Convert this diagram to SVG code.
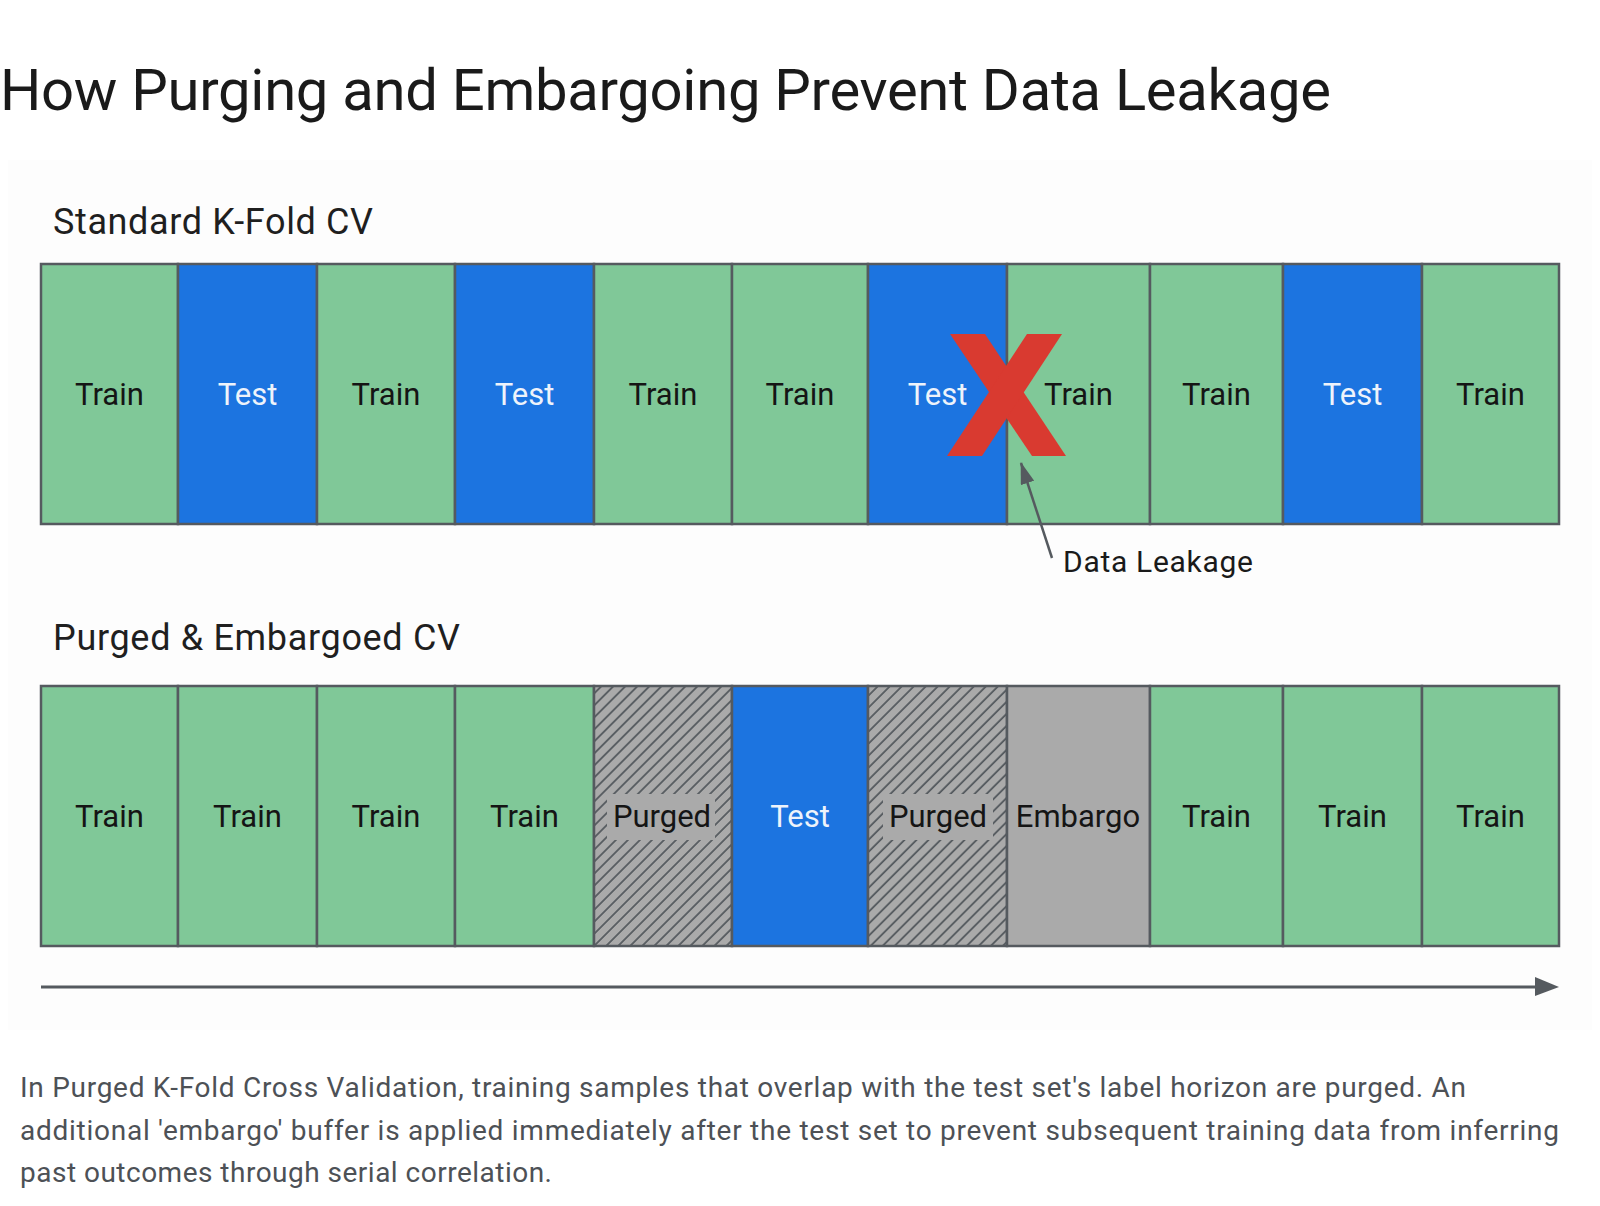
<svg xmlns="http://www.w3.org/2000/svg" width="1600" height="1206" viewBox="0 0 1600 1206">
<style>
.cell{stroke:#555a5f;stroke-width:2.5}
.train{fill:#80c898}
.test{fill:#1c74e0}
.gray{fill:#aaaaaa}
.lbl{font-family:Roboto,"Liberation Sans",sans-serif;font-size:31px;text-anchor:middle}
.dark{fill:#151515}
.light{fill:#eef3fb}
.head{font-family:Roboto,"Liberation Sans",sans-serif;font-size:36px;fill:#1f1f1f}
.cap{font-family:Roboto,"Liberation Sans",sans-serif;font-size:28px;fill:#4d5156}
.conn{stroke:#555a5f;fill:none}
</style>
<defs>
<pattern id="hatch" patternUnits="userSpaceOnUse" width="8.5" height="8.5" patternTransform="rotate(45)">
<rect width="8.5" height="8.5" fill="#aaaaaa"/>
<line x1="1" y1="0" x2="1" y2="8.5" stroke="#555a5f" stroke-width="1.8"/>
</pattern>
<marker id="ah" markerWidth="22" markerHeight="14" refX="21" refY="7" orient="auto" markerUnits="userSpaceOnUse" viewBox="0 0 22 14">
<path d="M0,0 L22,7 L0,14 z" fill="#555a5f"/>
</marker>
</defs>
<rect width="1600" height="1206" fill="#ffffff"/>
<rect x="8" y="160" width="1584" height="870" fill="#fdfdfd"/>
<text x="0" y="110" font-family="Roboto,'Liberation Sans',sans-serif" font-size="58" fill="#1a1a1a" textLength="1331">How Purging and Embargoing Prevent Data Leakage</text>
<text class="head" x="53" y="234" textLength="320">Standard K-Fold CV</text>
<text class="head" x="53" y="650" textLength="407">Purged &amp; Embargoed CV</text>

<g id="std-row">
<g id="s1"><rect class="cell train" x="41" y="264" width="137" height="260"/><text class="lbl dark" x="109.5" y="405">Train</text></g>
<g id="s2"><rect class="cell test" x="178" y="264" width="139" height="260"/><text class="lbl light" x="247.5" y="405">Test</text></g>
<g id="s3"><rect class="cell train" x="317" y="264" width="138" height="260"/><text class="lbl dark" x="386" y="405">Train</text></g>
<g id="s4"><rect class="cell test" x="455" y="264" width="139" height="260"/><text class="lbl light" x="524.5" y="405">Test</text></g>
<g id="s5"><rect class="cell train" x="594" y="264" width="138" height="260"/><text class="lbl dark" x="663" y="405">Train</text></g>
<g id="s6"><rect class="cell train" x="732" y="264" width="136" height="260"/><text class="lbl dark" x="800" y="405">Train</text></g>
<g id="s7"><rect class="cell test" x="868" y="264" width="139" height="260"/><text class="lbl light" x="937.5" y="405">Test</text></g>
<g id="s8"><rect class="cell train" x="1007" y="264" width="143" height="260"/><text class="lbl dark" x="1078.5" y="405">Train</text></g>
<g id="s9"><rect class="cell train" x="1150" y="264" width="133" height="260"/><text class="lbl dark" x="1216.5" y="405">Train</text></g>
<g id="s10"><rect class="cell test" x="1283" y="264" width="139" height="260"/><text class="lbl light" x="1352.5" y="405">Test</text></g>
<g id="s11"><rect class="cell train" x="1422" y="264" width="137" height="260"/><text class="lbl dark" x="1490.5" y="405">Train</text></g>
</g>

<g id="leak-x">
<polygon points="950,334 985,334 1066,456 1032,456" fill="#d93a30"/>
<polygon points="1027,334 1062,334 982,456 947,456" fill="#d93a30"/>
</g>

<g id="pe-row">
<g id="p1"><rect class="cell train" x="41" y="686" width="137" height="260"/><text class="lbl dark" x="109.5" y="827">Train</text></g>
<g id="p2"><rect class="cell train" x="178" y="686" width="139" height="260"/><text class="lbl dark" x="247.5" y="827">Train</text></g>
<g id="p3"><rect class="cell train" x="317" y="686" width="138" height="260"/><text class="lbl dark" x="386" y="827">Train</text></g>
<g id="p4"><rect class="cell train" x="455" y="686" width="139" height="260"/><text class="lbl dark" x="524.5" y="827">Train</text></g>
<g id="p5"><rect class="cell" x="594" y="686" width="138" height="260" fill="url(#hatch)"/><rect class="gray" x="607" y="794" width="108" height="46"/><text class="lbl dark" x="662" y="827">Purged</text></g>
<g id="p6"><rect class="cell test" x="732" y="686" width="136" height="260"/><text class="lbl light" x="800" y="827">Test</text></g>
<g id="p7"><rect class="cell" x="868" y="686" width="139" height="260" fill="url(#hatch)"/><rect class="gray" x="883" y="794" width="110" height="46"/><text class="lbl dark" x="938" y="827">Purged</text></g>
<g id="p8"><rect class="cell gray" x="1007" y="686" width="143" height="260"/><text class="lbl dark" x="1078" y="827">Embargo</text></g>
<g id="p9"><rect class="cell train" x="1150" y="686" width="133" height="260"/><text class="lbl dark" x="1216.5" y="827">Train</text></g>
<g id="p10"><rect class="cell train" x="1283" y="686" width="139" height="260"/><text class="lbl dark" x="1352.5" y="827">Train</text></g>
<g id="p11"><rect class="cell train" x="1422" y="686" width="137" height="260"/><text class="lbl dark" x="1490.5" y="827">Train</text></g>
</g>

<g id="connectors">
<line class="conn" x1="1052" y1="558" x2="1021" y2="463" stroke-width="2.5" marker-end="url(#ah)"/>
<line class="conn" x1="41" y1="987" x2="1537" y2="987" stroke-width="3"/>
<polygon points="1535,977 1559,987 1535,996" fill="#555a5f"/>
</g>

<text x="1063" y="572" font-family="Roboto,'Liberation Sans',sans-serif" font-size="30" fill="#1a1a1a" textLength="190">Data Leakage</text>

<g id="caption">
<text class="cap" x="20" y="1097" textLength="1446">In Purged K-Fold Cross Validation, training samples that overlap with the test set's label horizon are purged. An</text>
<text class="cap" x="20" y="1140" textLength="1539">additional 'embargo' buffer is applied immediately after the test set to prevent subsequent training data from inferring</text>
<text class="cap" x="20" y="1182" textLength="532">past outcomes through serial correlation.</text>
</g>
</svg>
